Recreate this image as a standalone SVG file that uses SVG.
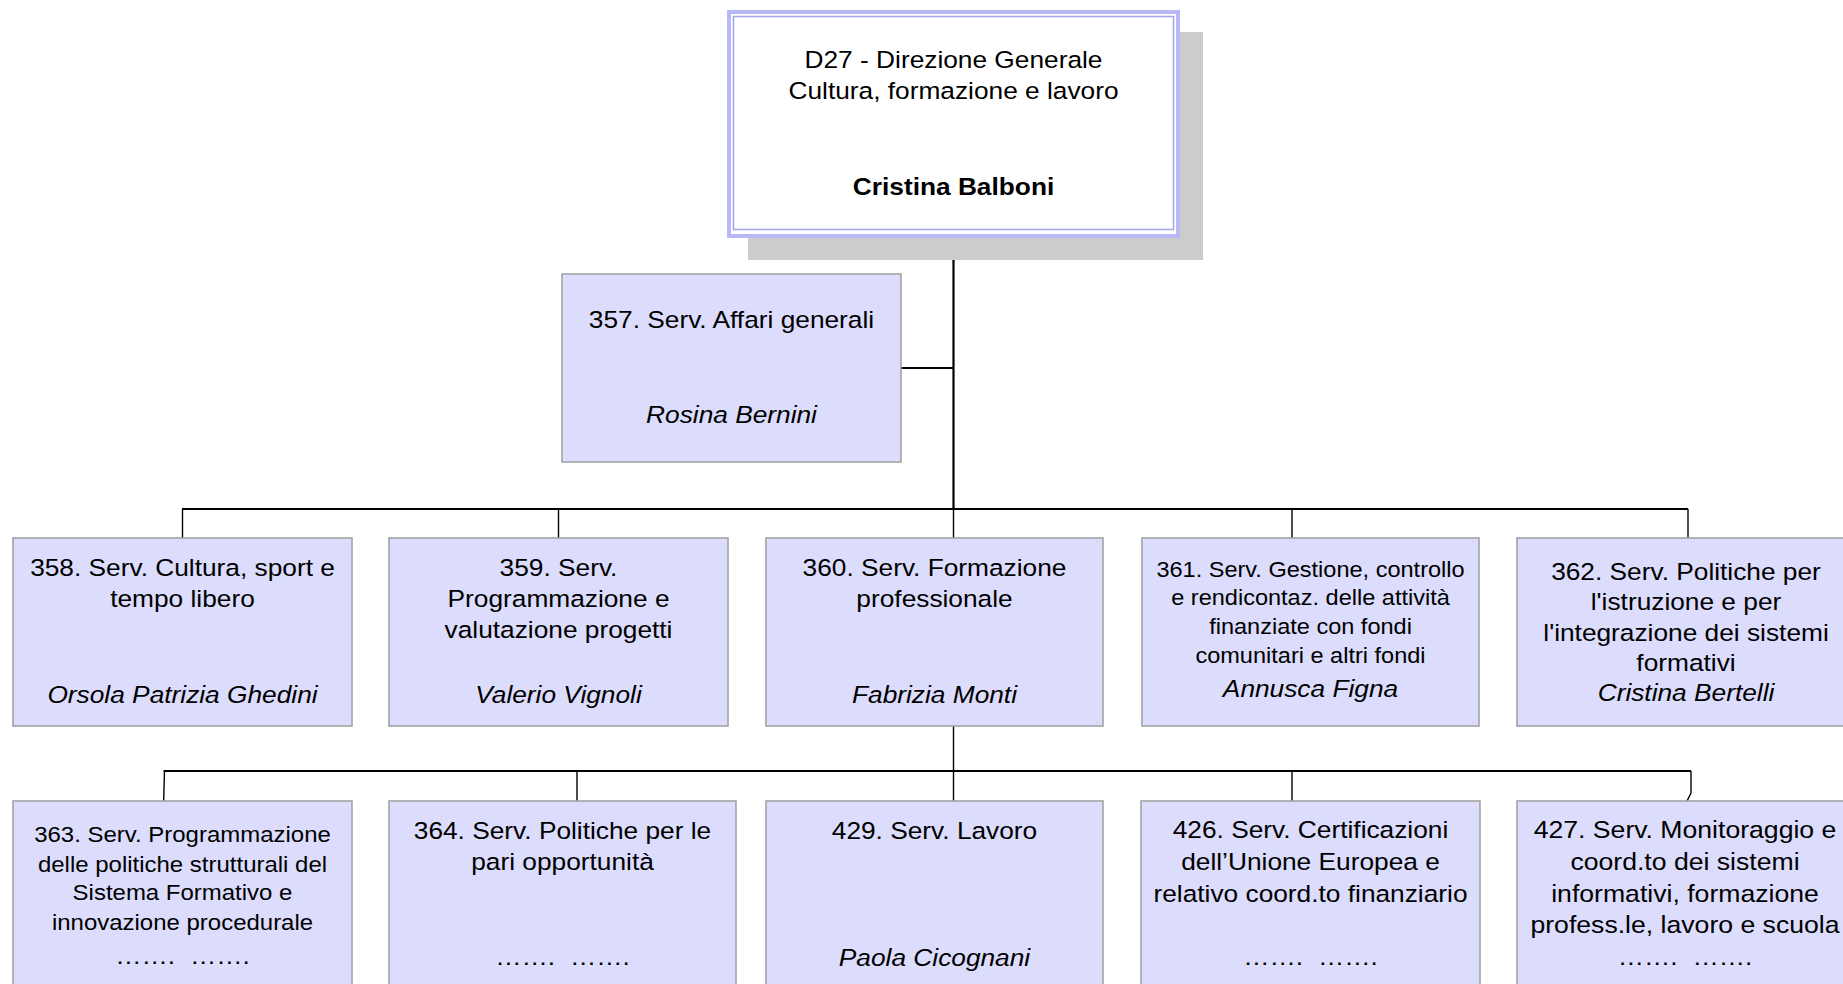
<svg xmlns="http://www.w3.org/2000/svg" width="1843" height="984" viewBox="0 0 1843 984">
<style>
.bg{fill:#ffffff}
.box{fill:#dcdcfc;stroke:#a3a3a3;stroke-width:1.6}
.shadow{fill:#cccccc}
.outer{fill:#ffffff;stroke:#b8b8f4;stroke-width:4}
.inner{fill:none;stroke:#a4a4ee;stroke-width:1.5}
.bus{fill:none;stroke:#000;stroke-width:2.2}
.drop{fill:none;stroke:#000;stroke-width:1.4}
.t{font-family:"Liberation Sans",Arial,Helvetica,sans-serif;fill:#000;text-anchor:middle;font-size:23.9px}
.s{font-size:21.4px}
.s2{font-size:21.8px}
.l{font-size:24.2px}
.d{font-size:23.9px}
.i{font-style:italic}
.b{font-weight:bold}
</style>
<rect class="bg" x="0" y="0" width="1843" height="984"/>

<g id="connectors">
  <line class="bus" x1="953.5" y1="238" x2="953.5" y2="509"/>
  <line class="bus" x1="901" y1="368" x2="953.5" y2="368"/>
  <line class="bus" x1="182" y1="509" x2="1688" y2="509"/>
  <line class="drop" x1="182.5" y1="509" x2="182.5" y2="538"/>
  <line class="drop" x1="558.5" y1="509" x2="558.5" y2="538"/>
  <line class="drop" x1="953.5" y1="509" x2="953.5" y2="538"/>
  <line class="drop" x1="1292" y1="509" x2="1292" y2="538"/>
  <line class="drop" x1="1688" y1="509" x2="1688" y2="538"/>
  <line class="drop" x1="953.5" y1="726" x2="953.5" y2="771"/>
  <line class="bus" x1="163.5" y1="771" x2="1691" y2="771"/>
  <path class="drop" d="M164.5 771 L163.5 806"/>
  <line class="drop" x1="577" y1="771" x2="577" y2="801"/>
  <line class="drop" x1="953.5" y1="771" x2="953.5" y2="801"/>
  <line class="drop" x1="1292" y1="771" x2="1292" y2="801"/>
  <path class="drop" d="M1691 771 V793 L1687 801"/>
</g>

<g id="node-d27">
  <rect class="shadow" x="748" y="32" width="455" height="228"/>
  <rect class="outer" x="729" y="12" width="449" height="224"/>
  <rect class="inner" x="733.5" y="16.5" width="440" height="213"/>
  <text class="t" transform="translate(953.5 0) scale(1.1 1)"><tspan x="0" y="68">D27 - Direzione Generale</tspan><tspan x="0" y="99">Cultura, formazione e lavoro</tspan><tspan class="b" x="0" y="195">Cristina Balboni</tspan></text>
</g>

<g id="node-357">
  <rect class="box" x="562" y="274" width="339" height="188"/>
  <text class="t" transform="translate(731.5 0) scale(1.1 1)"><tspan x="0" y="328">357. Serv. Affari generali</tspan><tspan class="i" x="0" y="423">Rosina Bernini</tspan></text>
</g>

<g id="node-358">
  <rect class="box" x="13" y="538" width="339" height="188"/>
  <text class="t" transform="translate(182.5 0) scale(1.1 1)"><tspan x="0" y="576">358. Serv. Cultura, sport e</tspan><tspan x="0" y="607">tempo libero</tspan><tspan class="i" x="0" y="703">Orsola Patrizia Ghedini</tspan></text>
</g>

<g id="node-359">
  <rect class="box" x="389" y="538" width="339" height="188"/>
  <text class="t" transform="translate(558.5 0) scale(1.1 1)"><tspan x="0" y="576">359. Serv.</tspan><tspan x="0" y="607">Programmazione e</tspan><tspan x="0" y="638">valutazione progetti</tspan><tspan class="i" x="0" y="703">Valerio Vignoli</tspan></text>
</g>

<g id="node-360">
  <rect class="box" x="766" y="538" width="337" height="188"/>
  <text class="t" transform="translate(934.5 0) scale(1.1 1)"><tspan x="0" y="576">360. Serv. Formazione</tspan><tspan x="0" y="607">professionale</tspan><tspan class="i" x="0" y="703">Fabrizia Monti</tspan></text>
</g>

<g id="node-361">
  <rect class="box" x="1142" y="538" width="337" height="188"/>
  <text class="t" transform="translate(1310.5 0) scale(1.1 1)"><tspan class="s" x="0" y="577">361. Serv. Gestione, controllo</tspan><tspan class="s" x="0" y="605">e rendicontaz. delle attività</tspan><tspan class="s" x="0" y="634">finanziate con fondi</tspan><tspan class="s" x="0" y="663">comunitari e altri fondi</tspan><tspan class="i" x="0" y="697">Annusca Figna</tspan></text>
</g>

<g id="node-362">
  <rect class="box" x="1517" y="538" width="338" height="188"/>
  <text class="t" transform="translate(1686 0) scale(1.1 1)"><tspan x="0" y="580">362. Serv. Politiche per</tspan><tspan x="0" y="610.5">l'istruzione e per</tspan><tspan x="0" y="641">l'integrazione dei sistemi</tspan><tspan x="0" y="671">formativi</tspan><tspan class="i" x="0" y="701.5">Cristina Bertelli</tspan></text>
</g>

<g id="node-363">
  <rect class="box" x="13" y="801" width="339" height="188"/>
  <text class="t" transform="translate(182.5 0) scale(1.1 1)"><tspan class="s2" x="0" y="842">363. Serv. Programmazione</tspan><tspan class="s2" x="0" y="872">delle politiche strutturali del</tspan><tspan class="s2" x="0" y="900">Sistema Formativo e</tspan><tspan class="s2" x="0" y="930">innovazione procedurale</tspan><tspan x="-34" y="964">…….</tspan><tspan x="34" y="964">…….</tspan></text>
</g>

<g id="node-364">
  <rect class="box" x="389" y="801" width="347" height="188"/>
  <text class="t" transform="translate(562.5 0) scale(1.1 1)"><tspan x="0" y="839">364. Serv. Politiche per le</tspan><tspan x="0" y="870">pari opportunità</tspan><tspan x="-34" y="965">…….</tspan><tspan x="34" y="965">…….</tspan></text>
</g>

<g id="node-429">
  <rect class="box" x="766" y="801" width="337" height="188"/>
  <text class="t" transform="translate(934.5 0) scale(1.1 1)"><tspan x="0" y="839">429. Serv. Lavoro</tspan><tspan class="i" x="0" y="966">Paola Cicognani</tspan></text>
</g>

<g id="node-426">
  <rect class="box" x="1141" y="801" width="339" height="188"/>
  <text class="t" transform="translate(1310.5 0) scale(1.1 1)"><tspan x="0" y="838">426. Serv. Certificazioni</tspan><tspan x="0" y="870">dell’Unione Europea e</tspan><tspan x="0" y="902">relativo coord.to finanziario</tspan><tspan x="-34" y="965">…….</tspan><tspan x="34" y="965">…….</tspan></text>
</g>

<g id="node-427">
  <rect class="box" x="1517" y="801" width="338" height="188"/>
  <text class="t l" transform="translate(1685 0) scale(1.1 1)"><tspan x="0" y="838">427. Serv. Monitoraggio e</tspan><tspan x="0" y="870">coord.to dei sistemi</tspan><tspan x="0" y="902">informativi, formazione</tspan><tspan x="0" y="933">profess.le, lavoro e scuola</tspan><tspan class="d" x="-34" y="965">…….</tspan><tspan class="d" x="34" y="965">…….</tspan></text>
</g>
</svg>
